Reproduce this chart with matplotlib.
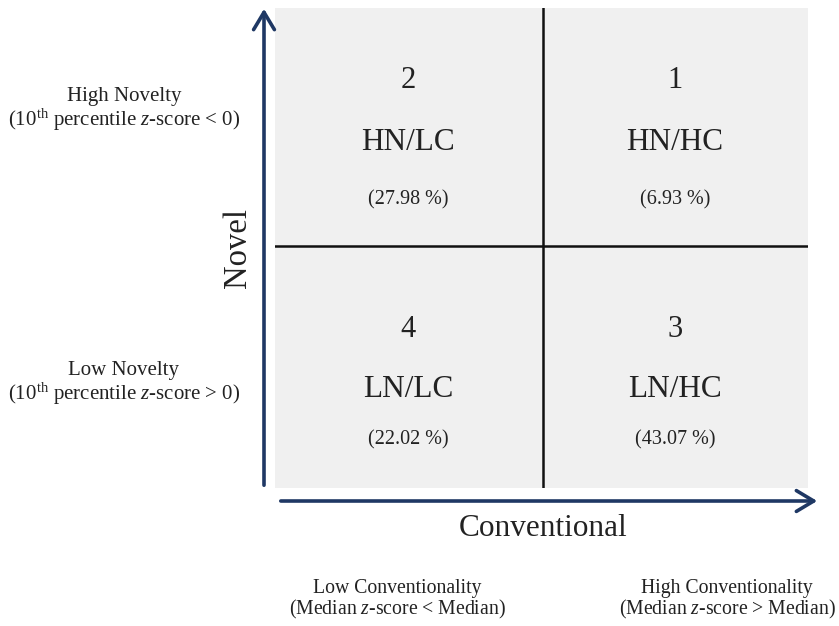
import matplotlib
matplotlib.use("Agg")
import matplotlib.pyplot as plt
from matplotlib.patches import FancyArrowPatch

plt.rcParams['font.family'] = ['Liberation Serif', 'DejaVu Serif']
plt.rcParams['mathtext.fontset'] = 'custom'
plt.rcParams['mathtext.it'] = 'Liberation Serif:italic'
plt.rcParams['mathtext.rm'] = 'Liberation Serif'

# Data
quadrant_numbers = ["2", "1", "4", "3"]
quadrant_labels = ["HN/LC", "HN/HC", "LN/LC", "LN/HC"]
quadrant_shares = [27.98, 6.93, 22.02, 43.07]
quadrant_cols = [0, 1, 0, 1]
quadrant_rows = [0, 0, 1, 1]
y_title = "Novel"
x_title = "Conventional"
y_levels = ["High Novelty\n(10$^{\\mathrm{th}}$ percentile $z$-score < 0)",
            "Low Novelty\n(10$^{\\mathrm{th}}$ percentile $z$-score > 0)"]
x_levels = ["Low Conventionality\n(Median $z$-score < Median)",
            "High Conventionality\n(Median $z$-score > Median)"]

W, H = 839, 626
fig = plt.figure(figsize=(W / 100, H / 100), dpi=100)
fig.patch.set_facecolor("white")

def fx(px):
    return px / W

def fy(py):
    return 1 - py / H

# Box axes
L, R, T, B = 275, 808, 8, 488
ax = fig.add_axes([fx(L), fy(B), fx(R) - fx(L), fy(T) - fy(B)])
ax.set_xlim(0, 2)
ax.set_ylim(2, 0)
ax.set_facecolor("#f0f0f0")
for s in ax.spines.values():
    s.set_visible(False)
ax.set_xticks([])
ax.set_yticks([])
ax.axvline(1.005, color="#111111", lw=1.8)
ax.axhline(0.992, color="#111111", lw=1.8)

row_offsets = {0: (0.30, 0.56, 0.80), 1: (0.34, 0.59, 0.80)}
for num, lab, share, c, r in zip(quadrant_numbers, quadrant_labels,
                                  quadrant_shares, quadrant_cols, quadrant_rows):
    o1, o2, o3 = row_offsets[r]
    xc = c + 0.50
    ax.text(xc, r + o1, num, ha="center", va="center", fontsize=22, color="#222222")
    ax.text(xc, r + o2, lab, ha="center", va="center", fontsize=22.5, color="#222222")
    ax.text(xc, r + o3, f"({share:.2f} %)", ha="center", va="center",
            fontsize=14.5, color="#222222")

navy = "#1f3864"
# Y arrow
fig.patches.append(FancyArrowPatch((fx(264), fy(488)), (fx(264), fy(6)),
                                   transform=fig.transFigure, arrowstyle="->,head_length=5,head_width=3",
                                   color=navy, lw=2.6, mutation_scale=2.5))
# X arrow
fig.patches.append(FancyArrowPatch((fx(278), fy(501)), (fx(820), fy(501)),
                                   transform=fig.transFigure, arrowstyle="->,head_length=5,head_width=3",
                                   color=navy, lw=2.6, mutation_scale=2.5))

fig.text(fx(238), fy(248), y_title, rotation=90, ha="center", va="center",
         fontsize=23.5, color="#222222")
fig.text(fx(543), fy(529), x_title, ha="center", va="center",
         fontsize=22.5, color="#222222")

for lab, py in zip(y_levels, [110, 384]):
    fig.text(fx(124), fy(py), lab, ha="center", va="center", fontsize=15,
             color="#222222", linespacing=1.05)
for lab, px in zip(x_levels, [397, 727]):
    fig.text(fx(px), fy(600), lab, ha="center", va="center", fontsize=14.2,
             color="#222222", linespacing=0.98)

fig.savefig("out.png", dpi=100)
